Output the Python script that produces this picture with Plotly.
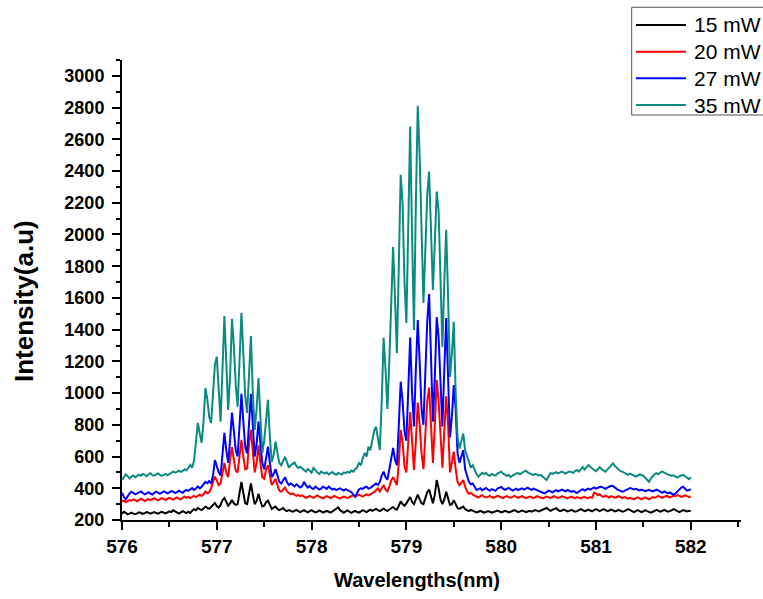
import numpy as np
import plotly.graph_objects as go

# Emission spectra sampled every 0.02 nm from 576 to 582 nm
wavelength = np.round(np.linspace(576.0, 582.0, 301), 2)

p15 = [
    238, 252, 245, 236, 240, 246, 240, 236, 242, 248, 244, 238, 243, 250, 246, 240, 245, 250, 244, 240,
    247, 252, 246, 241, 248, 255, 250, 262, 254, 246, 240, 248, 256, 250, 244, 252,
    245, 258, 268, 262, 275, 268, 262, 272, 285, 276, 270, 282, 295, 307, 288, 278, 295, 325, 339, 310,
    290, 305, 326, 305, 295, 300, 380, 440, 370, 305, 300, 370, 430, 360, 300, 320, 365, 320, 285, 290,
    312, 322, 290, 270, 278, 285, 270, 262, 268, 275, 262, 256, 262, 258, 252, 258, 264, 256, 250, 256,
    262, 254, 248, 256, 262, 255, 248, 252, 260, 254, 247, 252, 258, 252, 246, 254, 262, 272, 280, 262,
    252, 246, 254, 260, 252, 245, 252, 258, 250, 246, 254, 262, 256, 250, 258, 265, 258, 262, 270,
    262, 256, 264, 272, 262, 258, 266, 275, 282, 270, 265, 290, 318, 300, 290, 305, 330, 345, 315, 300,
    330, 360, 330, 305, 300, 340, 375, 392, 340, 305, 360, 452, 400, 330, 300, 330, 378, 330, 295, 300,
    325, 300, 275, 270, 280, 285, 268, 260, 256, 264, 258,
    254, 248, 252, 258, 252, 246, 250, 256, 252, 246, 250, 256, 260, 254, 248, 252, 258, 254, 248, 252,
    258, 262, 256, 250, 254, 260, 256, 250, 254, 258, 252, 256, 262, 258, 254, 260, 266, 272, 276, 266,
    258, 264, 270, 275, 264, 256, 260, 266, 260, 254, 258, 264, 258, 252, 256, 262, 268, 262, 256, 260,
    266, 260, 255, 262, 268, 262, 256, 262, 268, 262, 256, 260, 266, 260, 254, 258, 264, 258, 252, 256,
    262, 268, 262, 256, 250, 256, 262, 256, 250, 255, 262, 256, 250, 246, 252, 258, 264, 258, 252, 258,
    264, 258, 252, 256, 262, 268, 262, 255, 250, 256, 262, 258, 254, 258, 256,
]

p20 = [
    318, 322, 312, 318, 326, 322, 330, 324, 318, 326, 334, 328, 320, 326, 332, 325, 330, 338, 330, 324,
    332, 338, 332, 326, 334, 340, 334, 328, 336, 342, 335, 330, 340, 348, 340, 346,
    338, 345, 352, 345, 350, 360, 352, 362, 380, 368, 375, 400, 440, 473, 450, 420, 430, 500, 560, 500,
    470, 580, 660, 580, 510, 500, 620, 705, 600, 520, 525, 680, 768, 620, 500, 560, 670, 560, 470, 460,
    520, 545, 470, 420, 440, 460, 420, 385, 378, 395, 405, 380, 370, 362, 368, 360, 352, 358, 350, 355,
    348, 340, 345, 352, 346, 340, 348, 355, 348, 342, 336, 344, 350, 345, 338, 344, 352, 346, 340, 335,
    342, 348, 344, 338, 345, 350, 356, 348, 352, 360, 354, 348, 356, 362, 355, 360, 368, 375, 388,
    400, 380, 398, 420, 392, 380, 410, 450, 470, 440, 420, 560, 768, 690, 540, 500, 700, 880, 700, 515,
    700, 940, 800, 620, 520, 700, 950, 1035, 820, 560, 800, 1083, 950, 720, 530, 760, 980, 800, 500, 560,
    631, 520, 440, 420, 440, 452, 410, 380, 365, 370, 360,
    355, 348, 342, 350, 356, 348, 342, 346, 352, 345, 340, 346, 352, 348, 342, 338, 345, 350, 344, 340,
    346, 352, 346, 340, 345, 350, 344, 338, 342, 348, 344, 338, 344, 350, 345, 340, 336, 342, 348, 344,
    338, 345, 350, 344, 338, 344, 350, 346, 340, 336, 342, 348, 342, 338, 344, 340, 336, 342, 346, 340,
    338, 344, 340, 372, 368, 356, 362, 350, 346, 354, 348, 342, 350, 346, 340, 345, 350, 344, 338, 344,
    340, 334, 340, 336, 330, 336, 342, 336, 330, 336, 342, 336, 330, 338, 344, 340, 346, 352, 346, 340,
    346, 352, 348, 342, 348, 354, 350, 358, 352, 346, 350, 356, 350, 345, 348,
]

p27 = [
    372, 345, 330, 350, 368, 378, 372, 362, 368, 376, 380, 370, 362, 368, 375, 366, 360, 370, 378, 372,
    365, 372, 380, 376, 368, 374, 382, 378, 370, 376, 385, 378, 372, 382, 390, 384,
    395, 402, 390, 398, 412, 400, 410, 425, 440, 432, 445, 430, 480, 578, 540, 500, 480, 600, 749, 640,
    560, 700, 877, 760, 640, 600, 820, 995, 820, 660, 620, 800, 995, 800, 600, 680, 820, 680, 560, 520,
    600, 662, 560, 470, 490, 520, 480, 440, 430, 455, 470, 440, 420, 430, 418, 412, 425, 415, 405, 412,
    441, 420, 405, 415, 400, 395, 410, 402, 392, 398, 410, 404, 396, 410, 400, 392, 398, 388, 394, 400,
    392, 386, 395, 390, 382, 375, 360, 347, 370, 392, 400, 396, 405, 410, 398, 402, 412, 420, 430,
    420, 440, 480, 505, 470, 455, 520, 600, 654, 580, 545, 800, 1072, 950, 760, 700, 1000, 1350, 1000, 790,
    1150, 1460, 1200, 900, 800, 1100, 1450, 1625, 1250, 820, 1100, 1480, 1350, 1000, 790, 1150, 1474, 1100, 720, 850,
    1050, 900, 620, 560, 600, 640, 520, 470, 440, 425, 430,
    410, 389, 395, 400, 388, 395, 402, 392, 385, 395, 390, 384, 398, 404, 408, 398, 390, 396, 402, 394,
    386, 392, 398, 389, 395, 400, 392, 398, 404, 396, 390, 398, 392, 385, 380, 376, 372, 368, 378, 385,
    380, 374, 382, 388, 380, 385, 392, 386, 380, 389, 384, 378, 384, 375, 370, 380, 388, 394, 386, 390,
    398, 392, 400, 405, 398, 404, 408, 410, 402, 396, 404, 410, 416, 414, 402, 395, 388, 382, 378, 384,
    390, 396, 402, 398, 392, 396, 390, 386, 392, 388, 382, 386, 390, 384, 380, 386, 392, 385, 378, 372,
    380, 376, 368, 374, 366, 358, 368, 380, 392, 405, 410, 396, 385, 389, 395,
]

p35 = [
    452, 470, 488, 476, 462, 474, 481, 470, 477, 486, 479, 490, 484, 476, 488, 495, 483, 479, 487, 493,
    485, 478, 484, 490, 482, 488, 497, 506, 498, 503, 511, 504, 509, 520, 512, 528,
    548, 530, 575, 690, 812, 745, 686, 820, 1032, 960, 850, 812, 990, 1180, 1230, 1000, 820, 1150, 1486, 1200,
    894, 1100, 1468, 1300, 1050, 914, 1220, 1507, 1250, 980, 875, 1100, 1360, 1000, 768, 900, 1095, 850, 622, 700,
    860, 957, 720, 568, 610, 694, 620, 560, 545, 570, 599, 565, 530, 545, 552, 562, 540, 528, 536, 522,
    515, 505, 520, 510, 498, 528, 510, 500, 490, 505, 498, 492, 500, 487, 495, 502, 490, 485, 497, 492,
    486, 500, 495, 505, 498, 512, 505, 520, 532, 560, 545, 590, 622, 600, 662, 640, 705, 760, 788,
    700, 641, 950, 1348, 1150, 900, 1200, 1600, 1923, 1600, 1253, 1800, 2376, 2200, 1700, 1442, 2100, 2680, 2000, 1398,
    2200, 2811, 2500, 2000, 1568, 1900, 2250, 2396, 2000, 1650, 1950, 2270, 2150, 1700, 1291, 1700, 2029, 1600, 1102, 1250,
    1450, 1000, 720, 650, 700, 745, 640, 600, 560, 530, 545,
    515, 490, 473, 485, 498, 490, 496, 484, 478, 490, 486, 480, 493, 500, 505, 492, 486, 478, 484, 471,
    480, 489, 494, 496, 488, 498, 506, 511, 500, 492, 488, 484, 490, 486, 480, 484, 470, 462, 452, 478,
    496, 490, 498, 502, 494, 500, 505, 498, 492, 500, 506, 503, 496, 508, 515, 505, 520, 534, 518, 530,
    547, 535, 522, 515, 508, 525, 534, 520, 510, 505, 518, 530, 545, 557, 540, 528, 515, 508, 505, 495,
    490, 484, 492, 486, 478, 473, 480, 488, 484, 478, 466, 452, 441, 462, 478, 490, 496, 488, 500, 505,
    498, 490, 486, 484, 478, 482, 473, 468, 476, 480, 484, 476, 466, 458, 470,
]

series_names = ["15 mW", "20 mW", "27 mW", "35 mW"]
series_values = [p15, p20, p27, p35]
series_colors = ["#000000", "#ff0000", "#0000ff", "#0b8a80"]

x_ticks = [576, 577, 578, 579, 580, 581, 582]
y_ticks = list(range(200, 3001, 200))

FONT = "Liberation Sans, Arial, Helvetica, sans-serif"

fig = go.Figure()
for name, vals, col in zip(series_names, series_values, series_colors):
    fig.add_trace(go.Scatter(
        x=wavelength, y=vals, mode="lines", name=name,
        line=dict(color=col, width=2),
    ))

axis_common = dict(
    showline=True, linecolor="black", linewidth=2,
    ticks="outside", tickcolor="black", tickwidth=2,
    showgrid=False, zeroline=False,
)

fig.update_xaxes(
    range=[576, 582.53], tickvals=x_ticks, ticklen=8,
    minor=dict(dtick=0.5, tick0=576, ticks="outside", ticklen=5, tickwidth=2, tickcolor="black"),
    tickfont=dict(family=FONT, size=19, color="black", weight="bold"),
    **axis_common,
)
fig.update_yaxes(
    range=[200, 3100], tickvals=y_ticks, ticklen=8, ticklabelstandoff=4,
    minor=dict(dtick=100, tick0=200, ticks="outside", ticklen=4, tickwidth=2, tickcolor="black"),
    tickfont=dict(family=FONT, size=18, color="black", weight="bold"),
    **axis_common,
)

fig.add_annotation(
    text="Wavelengths(nm)", xref="paper", yref="paper", x=0.4758, y=-0.1304,
    showarrow=False, xanchor="center", yanchor="middle",
    font=dict(family=FONT, size=20, color="black", weight="bold"),
)
fig.add_annotation(
    text="Intensity(a.u)", xref="paper", yref="paper", x=-0.1583, y=0.476,
    showarrow=False, xanchor="center", yanchor="middle", textangle=-90,
    font=dict(family=FONT, size=26, color="black", weight="bold"),
)

# Legend box in the top-right corner, running off the right edge of the figure
fig.add_shape(
    type="rect", xref="paper", yref="paper",
    x0=0.8234, x1=1.06, y0=0.8804, y1=1.1146,
    line=dict(color="#555555", width=1), fillcolor="white", layer="above",
)
row_top = 1.0761      # centre of the first legend row (paper units)
row_step = 0.0580     # spacing between legend rows (paper units)
for k, (name, col) in enumerate(zip(series_names, series_colors)):
    yk = row_top - k * row_step
    fig.add_shape(
        type="line", xref="paper", yref="paper",
        x0=0.8304, x1=0.9111, y0=yk, y1=yk,
        line=dict(color=col, width=2), layer="above",
    )
    fig.add_annotation(
        text=name, xref="paper", yref="paper", x=0.9204, y=yk,
        xanchor="left", yanchor="middle", showarrow=False,
        font=dict(family=FONT, size=21, color="black"),
    )

fig.update_layout(
    width=763, height=599,
    margin=dict(l=122, r=22, t=60, b=79, autoexpand=False),
    plot_bgcolor="white", paper_bgcolor="white",
    showlegend=False,
)

fig.write_html("out.html")
